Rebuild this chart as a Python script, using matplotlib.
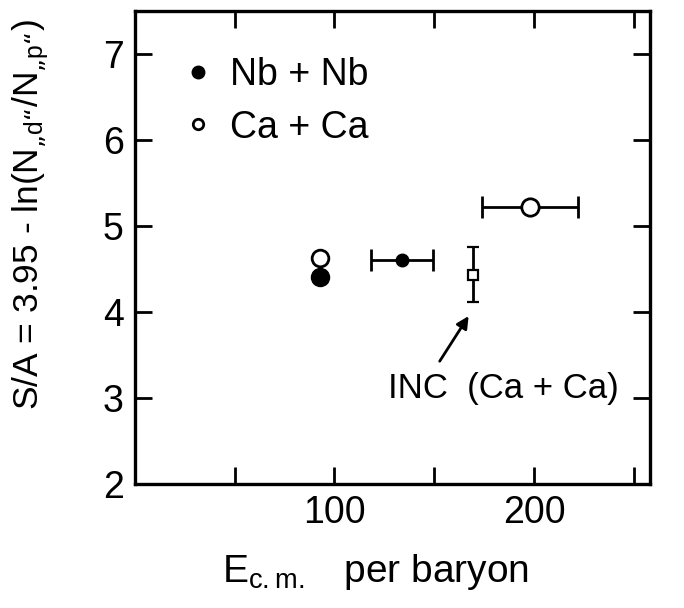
import matplotlib
matplotlib.use('Agg')
import matplotlib.pyplot as plt
from matplotlib import font_manager as fm
from matplotlib.lines import Line2D
from matplotlib.ticker import FixedLocator, FuncFormatter

# pick a narrow face if one is installed, the scan uses a condensed lettering
names = {f.name for f in fm.fontManager.ttflist}
fam = 'Liberation Sans Narrow' if 'Liberation Sans Narrow' in names else 'Liberation Sans'
plt.rcParams['font.family'] = [fam, 'DejaVu Sans']
plt.rcParams['mathtext.default'] = 'regular'

# data
nb_x = [93, 134]
nb_y = [4.41, 4.60]
nb_xerr = [0, 15.5]
ca_x = [93, 198]
ca_y = [4.63, 5.22]
ca_xerr = [0, 24]
inc_x = [169.5]
inc_y = [4.43]
inc_yerr = [0.32]
inc_label = 'INC  (Ca + Ca)'
xticks = [50, 100, 150, 200, 250]
xtick_labels = {100: '100', 200: '200'}
yticks = [2, 3, 4, 5, 6, 7]

fig = plt.figure(figsize=(6.84, 6.08), dpi=100)
ax = fig.add_axes([0.197, 0.204, 0.753, 0.778])

# large symbols at the low-energy point
ax.plot(nb_x[0], nb_y[0], 'o', color='k', ms=13, zorder=3)
ax.plot(ca_x[0], ca_y[0], 'o', mfc='white', mec='k', mew=2, ms=12, zorder=4)
# points with energy ranges
ax.errorbar(nb_x[1], nb_y[1], xerr=nb_xerr[1], fmt='o', color='k', ms=9,
            elinewidth=2, capsize=8, capthick=2)
ax.errorbar(ca_x[1], ca_y[1], xerr=ca_xerr[1], fmt='o', mfc='white', mec='k',
            ecolor='k', mew=2, ms=12.5, elinewidth=2, capsize=8, capthick=2, zorder=3)
ax.errorbar(inc_x, inc_y, yerr=inc_yerr, fmt='s', mfc='white', mec='k',
            ecolor='k', mew=1.6, ms=7.5, elinewidth=2, capsize=4.5, capthick=2)

ax.annotate('', xy=(168, 3.98), xytext=(152, 3.40),
            arrowprops=dict(arrowstyle='-|>', color='k', lw=2, mutation_scale=18))
ax.text(127, 3.11, inc_label, fontsize=25, va='center', ha='left')

handles = [Line2D([], [], marker='o', ls='', color='k', ms=9),
           Line2D([], [], marker='o', ls='', mfc='white', mec='k', mew=2, ms=7.5)]
ax.legend(handles, ['Nb + Nb', 'Ca + Ca'], loc='upper left', frameon=False,
          fontsize=27, handletextpad=0.25, labelspacing=0.45,
          bbox_to_anchor=(0.05, 0.935), borderaxespad=0, handlelength=1.2)

ax.set_xlim(0, 258)
ax.set_ylim(2, 7.5)
ax.xaxis.set_major_locator(FixedLocator(xticks))
ax.xaxis.set_major_formatter(FuncFormatter(lambda v, p: xtick_labels.get(int(round(v)), '')))
ax.yaxis.set_major_locator(FixedLocator(yticks))
ax.tick_params(direction='in', length=12, width=2, top=True, right=True,
               labelsize=27, pad=8)
for sp in ax.spines.values():
    sp.set_linewidth(2.4)

ax.set_xlabel('E$_{c.m.}$   per baryon', fontsize=28)
ax.xaxis.set_label_coords(0.468, -0.143)
ax.set_ylabel('S/A = 3.95 - ln(N$_{„d“}$/N$_{„p“}$)', fontsize=25.5)
ax.yaxis.set_label_coords(-0.163, 0.57)

fig.savefig('out.png', dpi=100)
